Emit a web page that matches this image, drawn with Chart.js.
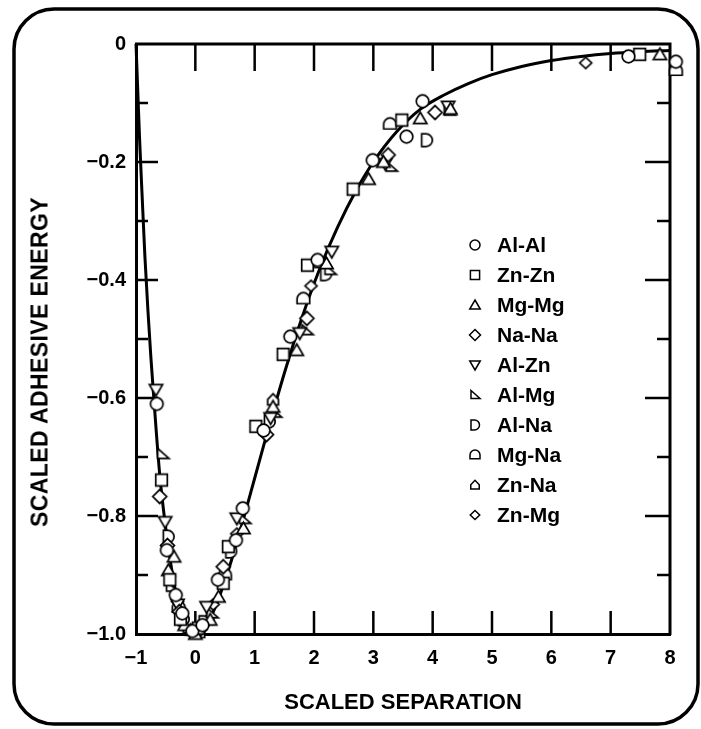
<!DOCTYPE html>
<html>
<head>
<meta charset="utf-8">
<script src="https://cdn.jsdelivr.net/npm/chart.js@4.4.1/dist/chart.umd.min.js"></script>
<style>
  html, body { margin: 0; padding: 0; background: #fff; }
  #wrap { position: relative; width: 701px; height: 729px; }
  #legend { position: absolute; left: 466px; top: 230px; font: bold 21px "Liberation Sans", Arial, sans-serif; color: #000; }
  #legend .row { height: 30px; display: flex; align-items: center; }
  #legend canvas { width: 18px; height: 18px; margin-right: 13px; }
  #ytitle { position: absolute; left: 40px; top: 362px; transform: translate(-50%, -50%) rotate(-90deg);
    white-space: nowrap; font: bold 23px "Liberation Sans", Arial, sans-serif; letter-spacing: 0.4px; color: #000; }
</style>
</head>
<body>
<div id="wrap">
  <canvas id="chart" width="701" height="729"></canvas>
  <div id="legend"></div>
  <div id="ytitle">SCALED ADHESIVE ENERGY</div>
</div>
<script>
// fitted universal curve
const curveX = [-1, -0.97, -0.94, -0.9, -0.85, -0.8, -0.75, -0.7, -0.6, -0.5, -0.4, -0.3, -0.2, -0.1, 0,
  0.1, 0.2, 0.3, 0.4, 0.6, 0.8, 1.0, 1.2, 1.5, 1.8, 2.1, 2.4, 2.7, 3.0, 3.4, 3.8, 4.2, 4.6, 5.0, 5.5, 6.0, 6.5, 7.0, 7.5, 8.0];
const curveY = [0, -0.08, -0.16, -0.25, -0.36, -0.45, -0.53, -0.60, -0.73, -0.82, -0.89, -0.945, -0.977, -0.995, -1.0,
  -0.995, -0.983, -0.963, -0.938, -0.878, -0.809, -0.736, -0.663, -0.558, -0.463, -0.38, -0.31, -0.25, -0.20, -0.148, -0.11, -0.086, -0.067, -0.052, -0.038, -0.028, -0.021, -0.016, -0.013, -0.011];

// measured points [separation, energy]
const alAl = [[-0.65, -0.61], [-0.48, -0.858], [-0.33, -0.934], [-0.22, -0.965], [-0.05, -0.995], [0.12, -0.985], [0.38, -0.908],
  [0.685, -0.841], [0.80, -0.787], [1.15, -0.655], [1.60, -0.496], [2.06, -0.366], [2.99, -0.197], [3.56, -0.157], [3.83, -0.097], [7.30, -0.021], [8.1, -0.03]];
const znZn = [[-0.57, -0.739], [-0.43, -0.908], [-0.25, -0.975], [0.05, -0.99], [0.47, -0.914], [0.556, -0.852], [1.02, -0.648],
  [1.48, -0.526], [1.89, -0.375], [2.66, -0.246], [3.48, -0.129], [7.49, -0.0175]];
const mgMg = [[-0.36, -0.869], [-0.455, -0.892], [-0.18, -0.985], [0.0, -1.0], [0.25, -0.976], [0.39, -0.937], [0.81, -0.821],
  [1.31, -0.615], [1.71, -0.519], [2.21, -0.372], [2.92, -0.229], [3.17, -0.2], [3.79, -0.126], [4.3, -0.11], [7.83, -0.0175]];
const naNa = [[-0.6, -0.767], [-0.47, -0.85], [-0.27, -0.962], [0.08, -0.992], [0.47, -0.886], [1.2, -0.662], [1.88, -0.465],
  [3.25, -0.188], [4.04, -0.116]];
const alZn = [[-0.663, -0.586], [-0.51, -0.81], [-0.3, -0.95], [0.02, -0.995], [0.19, -0.954], [0.70, -0.804], [1.27, -0.634],
  [1.76, -0.49], [2.30, -0.352], [3.2, -0.203], [4.26, -0.106]];
const alMg = [[-0.55, -0.695], [-0.4, -0.92], [-0.12, -0.99], [0.28, -0.965], [0.83, -0.805], [1.35, -0.625], [1.88, -0.485],
  [2.27, -0.383], [3.3, -0.208], [4.28, -0.113]];
const alNa = [[-0.455, -0.835], [-0.2, -0.975], [0.15, -0.98], [0.6, -0.86], [1.25, -0.64], [2.2, -0.39], [3.9, -0.163]];
const mgNa = [[-0.28, -0.955], [0.05, -0.998], [0.5, -0.9], [1.82, -0.432], [3.28, -0.136], [8.1, -0.045]];
const znNa = [[-0.22, -0.97], [-0.08, -0.993], [0.22, -0.975], [1.31, -0.603], [2.1, -0.37]];
const znMg = [[-0.3, -0.945], [-0.02, -0.997], [0.3, -0.95], [0.7, -0.83], [1.17, -0.66], [1.95, -0.41], [6.58, -0.032]];

const seriesNames = ['Al-Al', 'Zn-Zn', 'Mg-Mg', 'Na-Na', 'Al-Zn', 'Al-Mg', 'Al-Na', 'Mg-Na', 'Zn-Na', 'Zn-Mg'];
const seriesData = [alAl, znZn, mgMg, naNa, alZn, alMg, alNa, mgNa, znNa, znMg];
const seriesShapes = ['circle', 'square', 'triangle', 'diamond', 'down', 'rightTri', 'dee', 'dome', 'house', 'smallDiamond'];

const xTicks = [-1, 0, 1, 2, 3, 4, 5, 6, 7, 8];
const yTicks = [0, -0.2, -0.4, -0.6, -0.8, -1.0];
const yMinorTicks = [-0.1, -0.3, -0.5, -0.7, -0.9];

const FONT = "'Liberation Sans', Arial, Helvetica, sans-serif";

// draw one marker shape centred on (0,0), r = half size
function shapePath(ctx, shape, r) {
  ctx.beginPath();
  switch (shape) {
    case 'circle':
      ctx.arc(0, 0, r, 0, Math.PI * 2); break;
    case 'square':
      ctx.rect(-r * 0.92, -r * 0.92, r * 1.84, r * 1.84); break;
    case 'triangle':
      ctx.moveTo(0, -r); ctx.lineTo(r * 1.05, r * 0.8); ctx.lineTo(-r * 1.05, r * 0.8); ctx.closePath(); break;
    case 'down':
      ctx.moveTo(0, r); ctx.lineTo(r * 1.05, -r * 0.8); ctx.lineTo(-r * 1.05, -r * 0.8); ctx.closePath(); break;
    case 'diamond':
      ctx.moveTo(0, -r * 1.1); ctx.lineTo(r * 1.1, 0); ctx.lineTo(0, r * 1.1); ctx.lineTo(-r * 1.1, 0); ctx.closePath(); break;
    case 'smallDiamond':
      ctx.moveTo(0, -r * 0.9); ctx.lineTo(r * 0.95, 0); ctx.lineTo(0, r * 0.9); ctx.lineTo(-r * 0.95, 0); ctx.closePath(); break;
    case 'rightTri':
      ctx.moveTo(-r * 0.8, -r * 0.9); ctx.lineTo(r * 1.0, r * 0.7); ctx.lineTo(-r * 0.8, r * 0.7); ctx.closePath(); break;
    case 'dee':
      ctx.moveTo(-r * 0.8, -r); ctx.lineTo(-r * 0.1, -r);
      ctx.arc(-r * 0.1, 0, r, -Math.PI / 2, Math.PI / 2);
      ctx.lineTo(-r * 0.8, r); ctx.closePath(); break;
    case 'dome':
      ctx.moveTo(-r, r * 0.75); ctx.lineTo(-r, 0);
      ctx.arc(0, 0, r, Math.PI, Math.PI * 2);
      ctx.lineTo(r, r * 0.75); ctx.closePath(); break;
    case 'house':
      ctx.moveTo(-r * 0.85, r * 0.8); ctx.lineTo(-r * 0.85, -r * 0.05); ctx.lineTo(0, -r * 0.95);
      ctx.lineTo(r * 0.85, -r * 0.05); ctx.lineTo(r * 0.85, r * 0.8); ctx.closePath(); break;
  }
}

function makeMarker(shape, r, lw) {
  const size = Math.ceil(2 * r + 6);
  const c = document.createElement('canvas');
  c.width = size; c.height = size;
  const ctx = c.getContext('2d');
  ctx.translate(size / 2, size / 2);
  shapePath(ctx, shape, r);
  ctx.fillStyle = '#fff';
  ctx.fill();
  ctx.lineWidth = lw;
  ctx.strokeStyle = '#000';
  ctx.stroke();
  return c;
}

function fmtX(v) { return v < 0 ? '\u2212' + Math.abs(v) : String(v); }
function fmtY(v) { return v === 0 ? '0' : '\u2212' + Math.abs(v).toFixed(1); }

// rounded frame round the whole figure, plus top/right axes and inward ticks
const frame = {
  id: 'frame',
  beforeDraw(chart) {
    const ctx = chart.ctx;
    const x0 = 14, y0 = 9, x1 = 698, y1 = 724, rr = 40;
    ctx.save();
    ctx.lineWidth = 3.5;
    ctx.strokeStyle = '#000';
    ctx.beginPath();
    ctx.moveTo(x0 + rr, y0);
    ctx.arcTo(x1, y0, x1, y1, rr);
    ctx.arcTo(x1, y1, x0, y1, rr);
    ctx.arcTo(x0, y1, x0, y0, rr);
    ctx.arcTo(x0, y0, x1, y0, rr);
    ctx.closePath();
    ctx.stroke();
    ctx.restore();
  },
  beforeDatasetsDraw(chart) {
    const {ctx, chartArea: a, scales: {x, y}} = chart;
    ctx.save();
    ctx.strokeStyle = '#000';
    ctx.lineWidth = 3;
    ctx.beginPath();
    ctx.moveTo(a.left - 1, a.top);
    ctx.lineTo(a.right, a.top);
    ctx.lineTo(a.right, a.bottom + 1);
    ctx.stroke();
    ctx.lineWidth = 2.5;
    ctx.beginPath();
    xTicks.forEach(v => {
      if (v <= x.min || v >= x.max) return;
      const px = x.getPixelForValue(v);
      ctx.moveTo(px, a.bottom); ctx.lineTo(px, a.bottom - 23);
      ctx.moveTo(px, a.top); ctx.lineTo(px, a.top + 27);
    });
    yTicks.forEach(v => {
      if (v <= y.min || v >= y.max) return;
      const py = y.getPixelForValue(v);
      ctx.moveTo(a.left, py); ctx.lineTo(a.left + 22, py);
      ctx.moveTo(a.right, py); ctx.lineTo(a.right - 25, py);
    });
    yMinorTicks.forEach(v => {
      const py = y.getPixelForValue(v);
      ctx.moveTo(a.left, py); ctx.lineTo(a.left + 12, py);
      ctx.moveTo(a.right, py); ctx.lineTo(a.right - 13, py);
    });
    ctx.stroke();
    ctx.restore();
  }
};

const datasets = [{
  label: '',
  data: curveX.map((v, i) => ({x: v, y: curveY[i]})),
  showLine: true,
  borderColor: '#000',
  borderWidth: 3,
  pointRadius: 0,
  cubicInterpolationMode: 'monotone',
  order: 20,
  clip: false
}];
seriesNames.forEach((name, i) => {
  datasets.push({
    label: name,
    data: seriesData[i].map(p => ({x: p[0], y: p[1]})),
    pointStyle: makeMarker(seriesShapes[i], 6.3, 1.7),
    pointRadius: 6,
    showLine: false,
    order: 1,
    clip: false
  });
});

const chart = new Chart(document.getElementById('chart'), {
  type: 'scatter',
  data: { datasets: datasets },
  plugins: [frame],
  options: {
    responsive: false,
    animation: false,
    layout: { padding: { left: 14, right: 31, top: 44, bottom: 8 } },
    plugins: { legend: { display: false }, tooltip: { enabled: false } },
    scales: {
      x: {
        type: 'linear', min: -1, max: 8,
        afterBuildTicks: s => { s.ticks = xTicks.map(v => ({value: v})); },
        afterFit: s => { s.height = 729 - 8 - 634; },
        grid: { display: false, drawTicks: false },
        border: { display: true, color: '#000', width: 3 },
        ticks: { color: '#000', font: { family: FONT, size: 20, weight: 'bold' }, padding: 12, maxRotation: 0, autoSkip: false, callback: v => fmtX(v) },
        title: { display: true, text: 'SCALED SEPARATION', color: '#000', font: { family: FONT, size: 22, weight: 'bold' }, padding: { top: 0, bottom: 5 } }
      },
      y: {
        type: 'linear', min: -1, max: 0,
        afterBuildTicks: s => { s.ticks = yTicks.map(v => ({value: v})); },
        afterFit: s => { s.width = 136 - 14; },
        grid: { display: false, drawTicks: false },
        border: { display: true, color: '#000', width: 3 },
        ticks: { color: '#000', font: { family: FONT, size: 20, weight: 'bold' }, padding: 10, autoSkip: false, callback: v => fmtY(v) },
        title: { display: false }
      }
    }
  }
});

// legend built from the chart's datasets
const legendEl = document.getElementById('legend');
chart.data.datasets.forEach((ds, i) => {
  if (!ds.label) return;
  const row = document.createElement('div');
  row.className = 'row';
  const c = document.createElement('canvas');
  c.width = 18; c.height = 18;
  const ctx = c.getContext('2d');
  ctx.translate(9, 9);
  shapePath(ctx, seriesShapes[i - 1], 5);
  ctx.fillStyle = '#fff'; ctx.fill();
  ctx.lineWidth = 1.5; ctx.strokeStyle = '#000'; ctx.stroke();
  const span = document.createElement('span');
  span.textContent = ds.label;
  row.appendChild(c);
  row.appendChild(span);
  legendEl.appendChild(row);
});
</script>
</body>
</html>
